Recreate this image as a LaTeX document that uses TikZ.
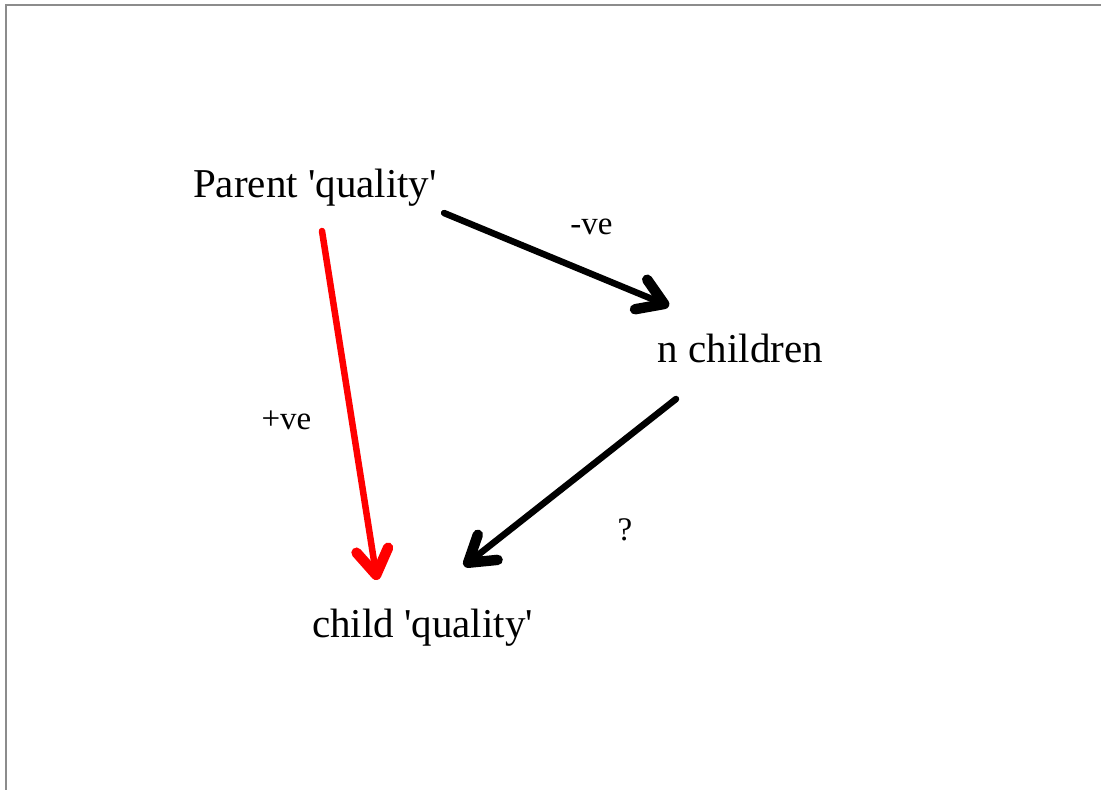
\documentclass[tikz,border=0pt]{standalone}
\usepackage{fontspec}
\setmainfont{Liberation Serif}
\usetikzlibrary{arrows.meta}
\begin{document}
\begin{tikzpicture}[x=1pt,y=-1pt,
  lbl/.style={anchor=base,inner sep=0pt,font=\fontsize{41}{46}\selectfont},
  sml/.style={anchor=base,inner sep=0pt,font=\fontsize{33}{38}\selectfont},
  conn/.style={line width=6.5pt,line cap=round,
    -{Straight Barb[length=25pt,width=32pt,line width=0pt 1.6,line cap=round,line join=round]}}]
\useasboundingbox (0,0) rectangle (1101,790);
\draw[line width=2pt,color=gray!90] (6,790) -- (6,5) -- (1101,5);
\node[lbl] (p) at (315,197) {Parent \textquotesingle quality\textquotesingle};
\node[lbl] (n) at (740.5,362) {n children};
\node[lbl] (c) at (422.5,637) {child \textquotesingle quality\textquotesingle};
\node[sml] (lneg) at (591.5,234) {-ve};
\node[sml] (lpos) at (286.5,429) {+ve};
\node[sml] (lq) at (625,540) {?};
\coordinate (p1) at (322,231);
\coordinate (c1) at (377,580);
\coordinate (p2) at (444,213);
\coordinate (n1) at (669,306);
\coordinate (n2) at (676,399);
\coordinate (c2) at (464,566);
\draw[conn,red] (p1) -- (c1);
\draw[conn] (p2) -- (n1);
\draw[conn] (n2) -- (c2);
\end{tikzpicture}
\end{document}
